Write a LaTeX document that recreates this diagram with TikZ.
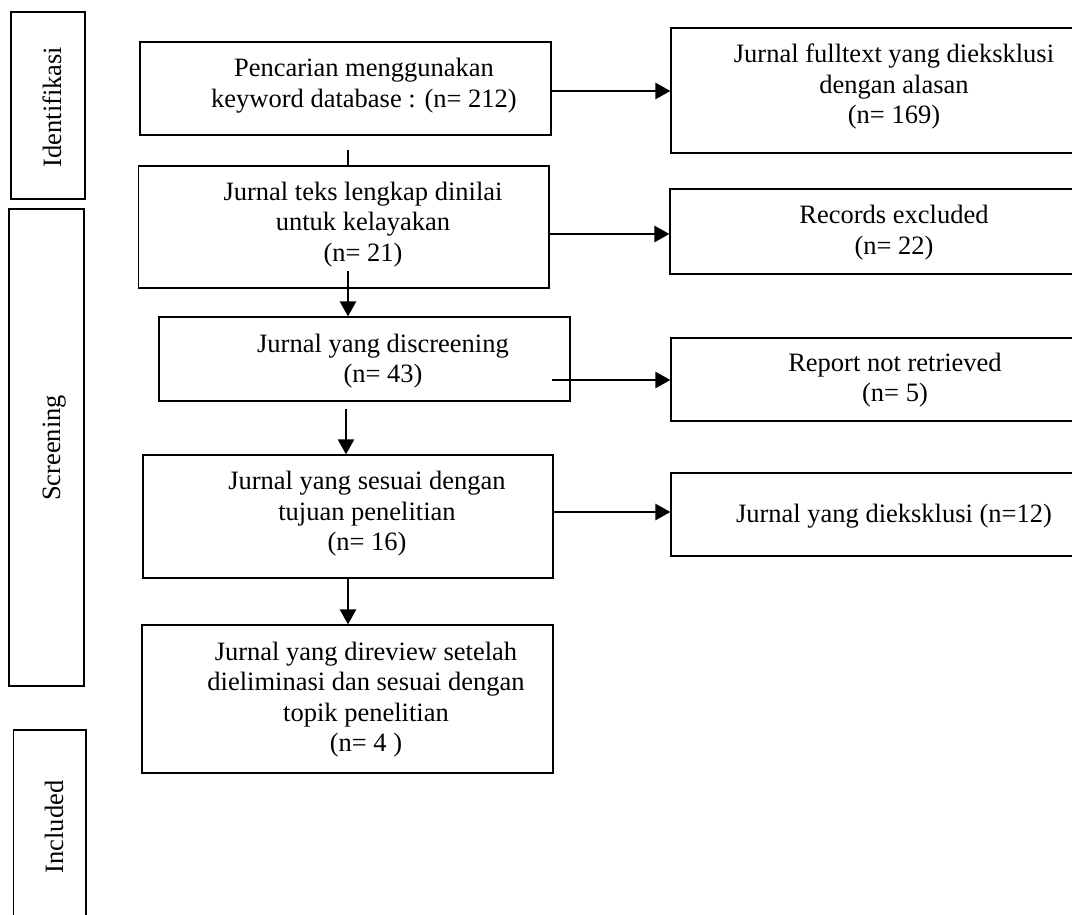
\documentclass[tikz,border=0pt]{standalone}
\usepackage{fontspec}
\setmainfont{Liberation Serif}
\usetikzlibrary{arrows.meta,calc}
\begin{document}
\begin{tikzpicture}[x=1pt,y=-1pt,
  boxnode/.style={draw=black,line width=1.2pt,rectangle,inner sep=0pt,fill=none},
  txt/.style={inner sep=0pt,align=center,font=\fontsize{26.5}{30.5}\selectfont},
  side/.style={inner sep=0pt,rotate=90,anchor=base,font=\fontsize{26.5}{30.5}\selectfont},
  conn/.style={line width=2.6pt},
  arr/.style={line width=2.6pt,-{Triangle[length=15pt,width=16pt]}}]
\useasboundingbox (0,0) rectangle (1072,915);
\fill[white] (0,0) rectangle (1072,915);
\clip (0,0) rectangle (1072,915);
% phase boxes
\node[boxnode,minimum width=74pt,minimum height=187pt] (pI) at (48,105.5) {};
\node[boxnode,minimum width=75pt,minimum height=477pt] (pS) at (46.5,447.5) {};
\node[boxnode,minimum width=72.5pt,minimum height=210pt] (pC) at (49.75,835) {};
\node[side] (lI) at (61,107) {Identifikasi};
\node[side] (lS) at (60,448) {Screening};
\node[side] (lC) at (63,827) {Included};
% main boxes
\node[boxnode,minimum width=411pt,minimum height=93pt] (b1) at (345.5,88.5) {};
\node[boxnode,minimum width=410.5pt,minimum height=122pt] (b2) at (343.75,227) {};
\node[boxnode,minimum width=411pt,minimum height=84pt] (b3) at (364.5,359) {};
\node[boxnode,minimum width=410pt,minimum height=123pt] (b4) at (348,516.5) {};
\node[boxnode,minimum width=411pt,minimum height=148pt] (b5) at (347.5,699) {};
% right boxes
\node[boxnode,minimum width=446pt,minimum height=125pt] (r1) at (894,90.5) {};
\node[boxnode,minimum width=448pt,minimum height=85pt] (r2) at (894,231.5) {};
\node[boxnode,minimum width=448pt,minimum height=83pt] (r3) at (895,379.5) {};
\node[boxnode,minimum width=446pt,minimum height=83pt] (r4) at (894,514.5) {};
% texts
\node[txt] (t1) at (364,{(77+107)/2-6.1}) {\strut Pencarian menggunakan\\\strut keyword database : (n= 212)};
\node[txt] (t2) at (363,{(200+262)/2-6.1}) {\strut Jurnal teks lengkap dinilai\\\strut untuk kelayakan\\\strut (n= 21)};
\node[txt] (t3) at (383,{(352+383)/2-6.1}) {\strut Jurnal yang discreening\\\strut (n= 43)};
\node[txt] (t4) at (367,{(489+551)/2-6.1}) {\strut Jurnal yang sesuai dengan\\\strut tujuan penelitian\\\strut (n= 16)};
\node[txt] (t5) at (366,{(660+751.5)/2-6.1}) {\strut Jurnal yang direview setelah\\\strut dieliminasi dan sesuai dengan\\\strut topik penelitian\\\strut (n= 4 )};
\node[txt] (s1) at (894,{(63+124)/2-6.1}) {\strut Jurnal fulltext yang dieksklusi\\\strut dengan alasan\\\strut (n= 169)};
\node[txt] (s2) at (894,{(224+254.5)/2-6.1}) {\strut Records excluded\\\strut (n= 22)};
\node[txt] (s3) at (895,{(371+402)/2-6.1}) {\strut Report not retrieved\\\strut (n= 5)};
\node[txt] (s4) at (894,{522-6.1}) {\strut Jurnal yang dieksklusi (n=12)};
% vertical connectors
\coordinate (v1) at (348,150);
\draw[conn] (v1) -- (v1 |- b2.north);
\coordinate (v2) at (348,271);
\draw[arr] (v2) -- (v2 |- b3.north);
\coordinate (v3) at (346,409);
\draw[arr] (v3) -- (v3 |- b4.north);
\coordinate (v4) at (348,578);
\draw[arr] (v4 |- b4.south) -- (v4 |- b5.north);
% horizontal connectors
\coordinate (h1) at (551,91);
\draw[arr] (h1) -- (h1 -| r1.west);
\coordinate (h2) at (549,234);
\draw[arr] (h2) -- (h2 -| r2.west);
\coordinate (h3) at (552,380);
\draw[arr] (h3) -- (h3 -| r3.west);
\coordinate (h4) at (552,512);
\draw[arr] (h4) -- (h4 -| r4.west);
\end{tikzpicture}
\end{document}
